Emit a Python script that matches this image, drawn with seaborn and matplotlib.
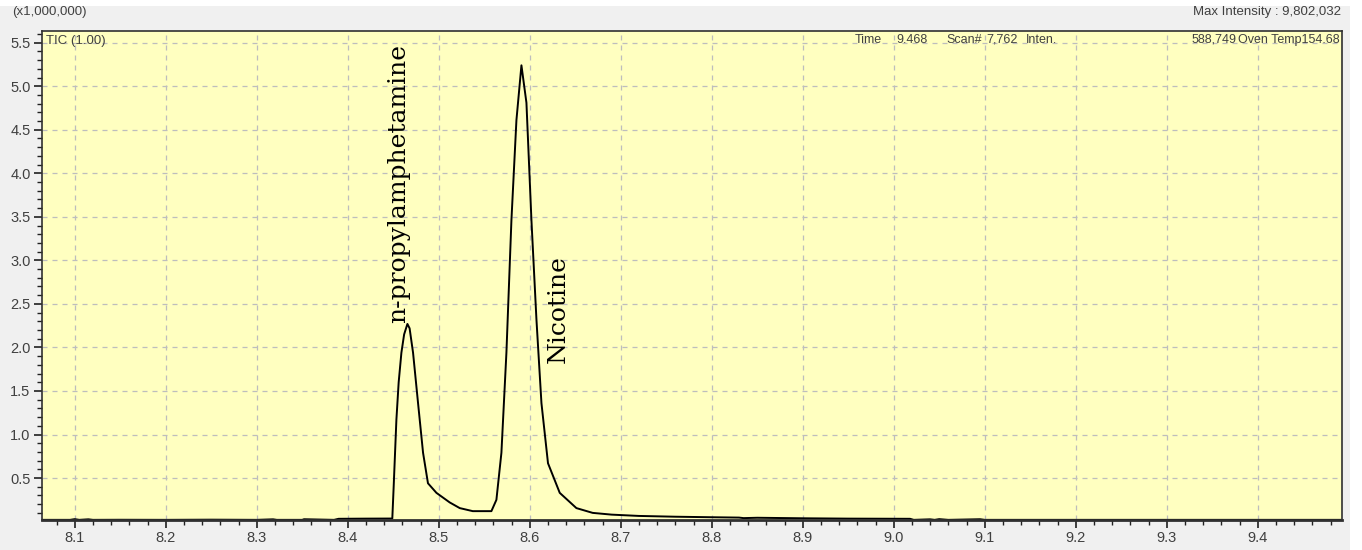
import matplotlib
matplotlib.use('Agg')
import matplotlib.pyplot as plt
import seaborn as sns
from matplotlib.patches import Rectangle
from matplotlib.ticker import MultipleLocator, FormatStrFormatter

# retention time (min) and TIC intensity (x1,000,000)
rt = [8.064, 8.095, 8.10, 8.105, 8.115, 8.12, 8.15, 8.20, 8.25, 8.30, 8.318,
      8.322, 8.35, 8.352, 8.385, 8.39, 8.42, 8.449,
      8.4505, 8.4535, 8.456, 8.459, 8.462, 8.4656, 8.468, 8.4718, 8.4773,
      8.4828, 8.4882, 8.4975, 8.5121, 8.5231, 8.5374, 8.5579, 8.5634, 8.5689,
      8.5744, 8.5799, 8.5854, 8.5909, 8.5964, 8.6019, 8.6074, 8.6129, 8.6201,
      8.633, 8.6513, 8.6692, 8.69, 8.72, 8.76, 8.80, 8.83, 8.835, 8.85, 8.90,
      8.95, 9.018, 9.022, 9.04, 9.045, 9.05, 9.06, 9.095, 9.10, 9.20, 9.30,
      9.40, 9.493]
tic = [0.02, 0.02, 0.028, 0.02, 0.026, 0.02, 0.021, 0.02, 0.022, 0.02, 0.026,
       0.02, 0.02, 0.027, 0.02, 0.032, 0.034, 0.035,
       0.40, 1.17, 1.60, 1.94, 2.15, 2.27, 2.22, 1.94, 1.36,
       0.79, 0.44, 0.33, 0.22, 0.155, 0.12, 0.12, 0.25, 0.79,
       1.94, 3.46, 4.61, 5.24, 4.81, 3.46, 2.32, 1.36, 0.67,
       0.33, 0.155, 0.10, 0.08, 0.065, 0.056, 0.05, 0.046, 0.04, 0.044, 0.038,
       0.034, 0.032, 0.02, 0.026, 0.02, 0.028, 0.02, 0.027, 0.02, 0.02, 0.02,
       0.02, 0.02]

peak_names = ['n-propylamphetamine', 'Nicotine']
peak_label_x = [8.4557, 8.631]
peak_label_y = [2.28, 1.82]

sns.set_style('white')
plt.rcParams['font.family'] = ['Liberation Sans', 'DejaVu Sans']

fig = plt.figure(figsize=(13.62, 5.5), dpi=100, facecolor='#f0f0f0')
# white strips at the top and right edge of the window capture
fig.add_artist(Rectangle((0, 1 - 6 / 550), 1, 6 / 550, transform=fig.transFigure,
                         facecolor='white', edgecolor='none', zorder=-1))
fig.add_artist(Rectangle((1350 / 1362, 0), 12 / 1362, 1, transform=fig.transFigure,
                         facecolor='white', edgecolor='none', zorder=-1))

ax = fig.add_axes([0.0306, 0.0545, 0.9545, 0.8891])
ax.set_facecolor('#ffffc0')

sns.lineplot(x=rt, y=tic, ax=ax, color='black', linewidth=1.4, sort=False)

ax.set_xlim(8.0637, 9.4923)
ax.set_ylim(0.018, 5.634)
ax.xaxis.set_major_locator(MultipleLocator(0.1))
ax.xaxis.set_minor_locator(MultipleLocator(0.02))
ax.yaxis.set_major_locator(MultipleLocator(0.5))
ax.yaxis.set_minor_locator(MultipleLocator(0.1))
ax.xaxis.set_major_formatter(FormatStrFormatter('%.1f'))
ax.yaxis.set_major_formatter(FormatStrFormatter('%.1f'))
ax.tick_params(which='major', direction='out', length=6, width=1.2,
               color='#202020', labelsize=10.5, labelcolor='#404040', pad=2)
ax.tick_params(which='minor', direction='out', length=3.5, width=1.0,
               color='#202020')
ax.tick_params(axis='both', which='both', bottom=True, left=True)
ax.grid(True, which='major', color='#bdbdbd', linestyle=(0, (4, 4)), linewidth=0.9)
ax.set_xlabel('')
ax.set_ylabel('')
for s in ax.spines.values():
    s.set_color('#303030')
    s.set_linewidth(1.2)
ax.spines['bottom'].set_linewidth(2)

# peak labels
for name, lx, ly in zip(peak_names, peak_label_x, peak_label_y):
    ax.text(lx, ly, name, rotation=90, ha='center', va='bottom',
            fontsize=18, family=['DejaVu Serif'], color='black')

# instrument header texts
fig.text(12 / 1362, 1 - 12 / 550, '(x1,000,000)', fontsize=9.5, color='#404040',
         va='center', ha='left')
fig.text(1341 / 1362, 1 - 12 / 550, 'Max Intensity : 9,802,032', fontsize=9.5,
         color='#404040', va='center', ha='right')
ax.text(0.003, 0.992, 'TIC (1.00)', transform=ax.transAxes, fontsize=9.5,
        color='#404040', va='top', ha='left')
header = [('Time', 855), ('9.468', 896), ('Scan#', 946), ('7,762', 986),
          ('Inten.', 1026), ('588,749', 1192)]
for t, px in header:
    fig.text(px / 1362, 1 - 40 / 550, t, fontsize=9, color='#404040',
             va='center', ha='left')
fig.text(1340 / 1362, 1 - 40 / 550, 'Oven Temp154.68', fontsize=9,
         color='#404040', va='center', ha='right')

fig.savefig('out.png', dpi=100, facecolor=fig.get_facecolor())
